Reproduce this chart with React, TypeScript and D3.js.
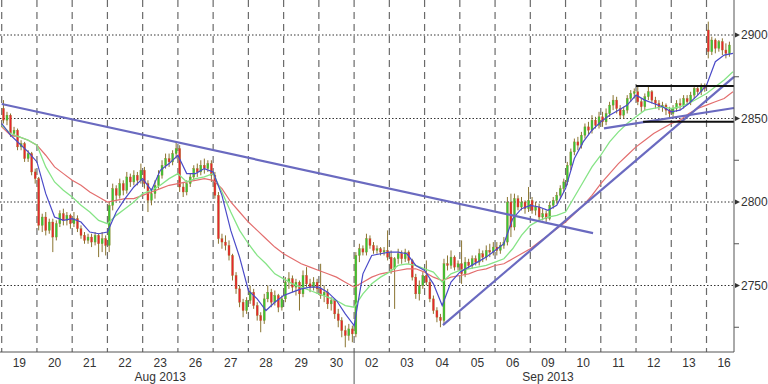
import React from "react";
import * as d3 from "d3";

// ---------- data ----------
const dayLabels = ["19","20","21","22","23","26","27","28","29","30","02","03","04","05","06","09","10","11","12","13","16"];
const monthLabels = ["Aug 2013", "Sep 2013"];
const monthFirstDay = [0, 10];
const candlesPerDay = 10;
const yMajorTicks = [2750, 2800, 2850, 2900];
const yMinorTicks = [2725, 2775, 2825, 2875];

// intraday candles, 10 per session (last session partial)
const opens = [
  2856,2849,2852,2841,2843,2833,2835,2826,2829,2818,
  2814,2786,2791,2783,2788,2779,2787,2793,2789,2792,
  2787,2790,2784,2780,2777,2779,2776,2780,2775,2778,
  2774,2798,2808,2804,2811,2807,2815,2812,2816,2813,
  2819,2811,2801,2805,2810,2816,2822,2826,2824,2829,
  2832,2809,2806,2811,2815,2820,2818,2822,2820,2823,
  2816,2804,2778,2776,2774,2768,2756,2748,2740,2735,
  2741,2746,2738,2732,2729,2742,2746,2740,2744,2737,
  2742,2752,2754,2749,2752,2745,2756,2751,2749,2752,
  2748,2744,2746,2739,2741,2733,2729,2723,2720,2724,
  2721,2768,2772,2770,2778,2774,2771,2772,2770,2771,
  2767,2760,2766,2769,2766,2770,2765,2755,2745,2750,
  2756,2752,2742,2735,2731,2729,2763,2762,2767,2761,
  2763,2757,2764,2762,2766,2764,2769,2767,2771,2770,
  2773,2771,2774,2776,2800,2785,2802,2797,2800,2796,
  2801,2795,2797,2791,2793,2790,2798,2801,2804,2808,
  2812,2822,2830,2836,2834,2840,2845,2843,2849,2846,
  2851,2848,2853,2858,2861,2856,2852,2855,2862,2865,
  2866,2860,2857,2863,2866,2861,2859,2857,2858,2855,
  2853,2856,2859,2858,2862,2860,2864,2868,2866,2869,
  2903,2890,2897,2892,2896,2891,2889,
];
const highs = [
  2861,2854,2853,2845,2844,2837,2836,2831,2830,2820,
  2815,2793,2794,2790,2790,2789,2795,2796,2794,2793,
  2794,2792,2786,2782,2781,2781,2782,2781,2782,2780,
  2800,2811,2810,2814,2813,2818,2817,2819,2818,2823,
  2821,2813,2808,2813,2819,2825,2829,2829,2831,2836,
  2834,2812,2813,2817,2822,2823,2825,2826,2825,2825,
  2818,2806,2781,2780,2777,2769,2758,2750,2742,2743,
  2750,2748,2740,2734,2745,2750,2748,2747,2745,2744,
  2755,2758,2756,2754,2753,2759,2761,2754,2755,2754,
  2763,2750,2748,2743,2742,2736,2731,2726,2727,2726,
  2770,2775,2774,2781,2780,2776,2774,2773,2773,2783,
  2771,2767,2772,2771,2772,2771,2766,2757,2753,2758,
  2765,2754,2744,2737,2733,2766,2768,2771,2768,2765,
  2777,2767,2766,2768,2768,2772,2771,2774,2775,2776,
  2776,2776,2779,2803,2805,2805,2804,2803,2801,2809,
  2803,2800,2799,2796,2795,2800,2803,2806,2810,2814,
  2824,2832,2838,2839,2842,2847,2848,2852,2851,2854,
  2854,2856,2860,2864,2863,2858,2857,2864,2867,2868,
  2869,2862,2865,2869,2867,2863,2861,2860,2859,2857,
  2858,2861,2862,2864,2864,2866,2870,2870,2871,2871,
  2908,2899,2898,2897,2898,2895,2896,
];
const lows = [
  2847,2846,2839,2839,2831,2831,2824,2824,2816,2811,
  2783,2782,2780,2781,2770,2777,2785,2786,2786,2784,
  2785,2782,2778,2775,2775,2773,2774,2767,2770,2768,
  2770,2795,2801,2802,2804,2805,2809,2810,2810,2811,
  2808,2794,2798,2802,2808,2814,2820,2821,2822,2826,
  2806,2803,2804,2809,2813,2815,2816,2817,2818,2812,
  2802,2775,2772,2771,2765,2753,2745,2737,2731,2733,
  2739,2736,2729,2722,2727,2740,2737,2738,2734,2735,
  2740,2748,2746,2744,2735,2743,2749,2746,2747,2745,
  2742,2740,2736,2735,2730,2725,2719,2713,2717,2716,
  2719,2764,2768,2768,2772,2769,2769,2768,2768,2765,
  2757,2736,2763,2763,2764,2763,2753,2742,2741,2748,
  2750,2740,2733,2728,2725,2727,2759,2760,2759,2759,
  2751,2755,2760,2760,2762,2762,2764,2765,2767,2768,
  2768,2769,2772,2774,2779,2783,2795,2795,2793,2794,
  2793,2792,2789,2789,2787,2789,2796,2799,2802,2806,
  2810,2819,2828,2831,2832,2838,2840,2841,2844,2844,
  2845,2846,2851,2855,2853,2850,2850,2853,2860,2862,
  2858,2854,2855,2861,2859,2856,2855,2854,2852,2850,
  2851,2854,2855,2856,2858,2858,2862,2864,2864,2866,
  2886,2888,2889,2890,2888,2886,2887,
];
const closes = [
  2849,2852,2841,2843,2833,2835,2826,2829,2818,2814,
  2786,2791,2783,2788,2779,2787,2793,2789,2792,2787,
  2790,2784,2780,2777,2779,2776,2780,2775,2778,2774,
  2798,2808,2804,2811,2807,2815,2812,2816,2813,2819,
  2811,2801,2805,2810,2816,2822,2826,2824,2829,2832,
  2809,2806,2811,2815,2820,2818,2822,2820,2823,2816,
  2804,2778,2776,2774,2768,2756,2748,2740,2735,2741,
  2746,2738,2732,2729,2742,2746,2740,2744,2737,2742,
  2752,2754,2749,2752,2745,2756,2751,2749,2752,2748,
  2744,2746,2739,2741,2733,2729,2723,2720,2724,2721,
  2768,2772,2770,2778,2774,2771,2772,2770,2771,2767,
  2760,2766,2769,2766,2770,2765,2755,2745,2750,2756,
  2752,2742,2735,2731,2729,2763,2762,2767,2761,2763,
  2757,2764,2762,2766,2764,2769,2767,2771,2770,2773,
  2771,2774,2776,2800,2785,2802,2797,2800,2796,2801,
  2795,2797,2791,2793,2790,2798,2801,2804,2808,2812,
  2822,2830,2836,2834,2840,2845,2843,2849,2846,2851,
  2848,2853,2858,2861,2856,2852,2855,2862,2865,2866,
  2860,2857,2863,2866,2861,2859,2857,2858,2855,2853,
  2856,2859,2858,2862,2860,2864,2868,2866,2869,2868,
  2890,2897,2892,2896,2891,2889,2894,
];

// moving averages sampled every quarter session
const maBlue = [
  2847,2840,2835,2830,2824,2805,2791,2789,2790,2788,
  2782,2781,2782,2794,2802,2809,2814,2807,2819,2823,
  2828,2817,2817,2820,2818,2804,2783,2767,2747,2742,
  2735,2740,2744,2746,2748,2749,2749,2746,2741,2733,
  2726,2757,2768,2769,2770,2770,2769,2762,2759,2751,
  2738,2752,2758,2761,2764,2767,2771,2775,2790,2796,
  2798,2797,2795,2798,2808,2826,2836,2843,2848,2852,
  2855,2858,2864,2861,2859,2857,2854,2855,2859,2864,
  2870,2884,2888,2889,
];
const maGreen = [
  2846,2841,2839,2837,2834,2821,2812,2807,2803,2798,
  2794,2789,2787,2792,2796,2800,2805,2807,2810,2814,
  2817,2812,2814,2815,2817,2806,2794,2783,2775,2768,
  2763,2757,2754,2751,2749,2747,2745,2743,2741,2738,
  2737,2745,2751,2755,2758,2762,2763,2762,2760,2758,
  2752,2757,2759,2760,2761,2762,2764,2766,2772,2780,
  2786,2789,2791,2792,2794,2803,2812,2821,2828,2836,
  2842,2847,2851,2855,2856,2857,2856,2857,2859,2862,
  2865,2869,2873,2878,
];
const maRed = [
  2845,2840,2839,2837,2834,2828,2821,2817,2813,2810,
  2806,2803,2800,2801,2802,2802,2804,2806,2808,2810,
  2811,2812,2813,2814,2813,2808,2800,2794,2788,2783,
  2778,2773,2769,2766,2763,2761,2759,2757,2755,2752,
  2749,2752,2755,2757,2758,2759,2760,2760,2758,2755,
  2753,2755,2756,2757,2759,2760,2762,2763,2766,2769,
  2772,2776,2780,2784,2788,2793,2798,2804,2811,2817,
  2823,2828,2833,2837,2841,2844,2847,2849,2853,2856,
  2858,2860,2862,2866,
];

// drawn lines: [startSession, startValue, endSession, endValue]
const trendLines = [
  [0, 2858.7, 16.78, 2781.4],
  [12.52, 2726.3, 20.78, 2874.9],
  [17.09, 2844.1, 20.78, 2856.3],
];
const rangeLines = [
  [18.0, 2869.5, 20.78, 2869.5],
  [18.2, 2848.0, 20.78, 2848.0],
];

// ---------- chart ----------
const W = 768;
const H = 384;
const plotRight = 734;
const plotBottom = 352;
const FONT = "'Liberation Sans', Arial, sans-serif";

export default function App() {
  const x = d3.scaleLinear().domain([0, 20.78]).range([1.7, plotRight]);
  const y = d3.scaleLinear().domain([2750, 2900]).range([285.5, 35]);

  const maLine = d3
    .line<number>()
    .x((_, i) => x(i / 4))
    .y((d) => y(d));

  const candleT = (i: number) => {
    const day = Math.floor(i / candlesPerDay);
    const j = i % candlesPerDay;
    return day + (j + 0.5) / candlesPerDay;
  };

  const upCol = "#35c835";
  const downCol = "#e8262c";

  return (
    <svg
      width={W}
      height={H}
      style={{ position: "absolute", left: 0, top: 0, background: "#fff" }}
      fontFamily={FONT}
    >
      <rect x={0} y={0} width={W} height={H} fill="#fff" />
      {/* vertical dashed session separators */}
      {dayLabels.map((_, d) => (
        <line
          key={"v" + d}
          x1={x(d)}
          x2={x(d)}
          y1={0}
          y2={plotBottom}
          stroke="#6a6a6a"
          strokeWidth={1.2}
          strokeDasharray="7,5"
        />
      ))}
      {/* horizontal dotted grid */}
      {yMajorTicks.map((v) => (
        <line
          key={"h" + v}
          x1={0}
          x2={plotRight}
          y1={y(v)}
          y2={y(v)}
          stroke="#333"
          strokeWidth={1}
          strokeDasharray="1.5,2"
        />
      ))}

      {/* candles */}
      {closes.map((c, i) => {
        const o = opens[i];
        const up = c >= o;
        const cx = x(candleT(i));
        const top = y(Math.max(o, c));
        const bot = y(Math.min(o, c));
        const col = up ? upCol : downCol;
        return (
          <g key={"c" + i}>
            <line x1={cx} x2={cx} y1={y(highs[i])} y2={y(lows[i])} stroke="#8a7430" strokeWidth={1} />
            <rect
              x={cx - 1}
              y={top}
              width={2}
              height={Math.max(1, bot - top)}
              fill={col}
              stroke="#9a7a28"
              strokeWidth={0.35}
            />
          </g>
        );
      })}

      {/* moving averages */}
      <path d={maLine(maRed) || ""} fill="none" stroke="#e36e6e" strokeWidth={1.2} />
      <path d={maLine(maGreen) || ""} fill="none" stroke="#86e486" strokeWidth={1.3} />
      <path d={maLine(maBlue) || ""} fill="none" stroke="#4a4ac8" strokeWidth={1.2} />

      {/* trend lines */}
      {trendLines.map((l, i) => (
        <line
          key={"t" + i}
          x1={x(l[0])}
          y1={y(l[1])}
          x2={x(l[2])}
          y2={y(l[3])}
          stroke="#6a6ac0"
          strokeWidth={2.2}
        />
      ))}
      {rangeLines.map((l, i) => (
        <line
          key={"r" + i}
          x1={x(l[0])}
          y1={y(l[1])}
          x2={x(l[2])}
          y2={y(l[3])}
          stroke="#111"
          strokeWidth={2}
        />
      ))}

      {/* axes */}
      <line x1={plotRight} x2={plotRight} y1={0} y2={plotBottom} stroke="#555" strokeWidth={1} />
      <line x1={0} x2={plotRight} y1={plotBottom} y2={plotBottom} stroke="#555" strokeWidth={1} />
      <line x1={x(monthFirstDay[1])} x2={x(monthFirstDay[1])} y1={plotBottom} y2={H} stroke="#555" strokeWidth={1} />

      {yMinorTicks.map((v) => (
        <line key={"mt" + v} x1={plotRight} x2={plotRight + 5} y1={y(v)} y2={y(v)} stroke="#555" strokeWidth={1} />
      ))}
      {yMajorTicks.map((v) => (
        <g key={"yt" + v}>
          <path
            d={`M${plotRight + 1},${y(v) - 2.5}L${plotRight + 6},${y(v)}L${plotRight + 1},${y(v) + 2.5}Z`}
            fill="#333"
          />
          <text x={plotRight + 7} y={y(v)} dy="0.36em" fontSize={12} fill="#333">
            {v}
          </text>
        </g>
      ))}

      {dayLabels.map((d, i) => (
        <text key={"dl" + i} x={x(i + 0.5)} y={367} textAnchor="middle" fontSize={12} fill="#333">
          {d}
        </text>
      ))}
      {monthLabels.map((m, i) => {
        const first = monthFirstDay[i];
        const last = i + 1 < monthFirstDay.length ? monthFirstDay[i + 1] - 1 : dayLabels.length - 1;
        const mid = Math.floor((first + last) / 2);
        return (
          <text key={"ml" + i} x={x(mid + 0.5)} y={381} textAnchor="middle" fontSize={12} fill="#333">
            {m}
          </text>
        );
      })}
    </svg>
  );
}
